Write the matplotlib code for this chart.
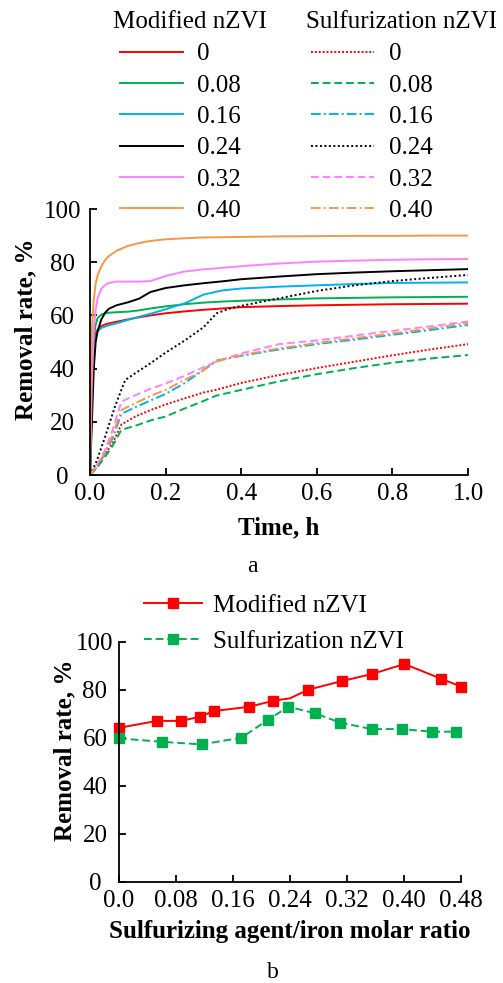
import matplotlib
matplotlib.use("Agg")
import matplotlib.pyplot as plt

plt.rcParams['font.family'] = ['Liberation Serif', 'DejaVu Serif']

# ---------------- data (a) ----------------
ratios = ["0", "0.08", "0.16", "0.24", "0.32", "0.40"]
colors = ["#FF0000", "#00B050", "#00B0F0", "#000000", "#FF80FF", "#F79646"]

t_mod = [0, 0.005, 0.01, 0.015, 0.02, 0.03, 0.04, 0.05, 0.07, 0.1, 0.13, 0.16,
         0.2, 0.25, 0.3, 0.35, 0.4, 0.5, 0.6, 0.7, 0.8, 0.9, 1.0]
mod_0    = [0, 30, 48, 53, 54.6, 56, 56.6, 57, 57.6, 58.5, 59.3, 60, 60.8, 61.5, 62.1, 62.6, 63.1, 63.5, 63.8, 64, 64.2, 64.3, 64.4]
mod_008  = [0, 30, 52, 56.5, 59, 60.3, 60.8, 61, 61.2, 61.4, 61.9, 62.6, 63.4, 64.2, 64.8, 65.2, 65.5, 66, 66.4, 66.6, 66.8, 66.9, 67.0]
mod_016  = [0, 28, 46, 51.5, 54, 55.3, 55.8, 56.3, 57, 58.3, 59.5, 60.6, 62.3, 64.5, 67.8, 69.4, 70.1, 70.8, 71.3, 71.8, 72.2, 72.3, 72.4]
mod_024  = [0, 20, 40, 50, 54, 58.5, 61, 62.5, 63.8, 64.9, 66.3, 68.8, 70.3, 71.3, 72.1, 72.8, 73.6, 74.6, 75.5, 76.1, 76.6, 77, 77.4]
mod_032  = [0, 35, 55, 62, 66.5, 70, 71.4, 72.2, 72.7, 72.7, 72.7, 72.9, 74.8, 76.5, 77.3, 77.9, 78.5, 79.5, 80.2, 80.6, 80.9, 81.1, 81.2]
mod_040  = [0, 55, 66, 72, 75, 78.5, 80.8, 82.3, 84.3, 86.1, 87.2, 88, 88.6, 89, 89.3, 89.4, 89.5, 89.7, 89.8, 89.9, 89.9, 90, 90]

t_sul = [0, 0.017, 0.04, 0.06, 0.083, 0.12, 0.16, 0.2, 0.25, 0.3, 0.333, 0.4,
         0.5, 0.6, 0.7, 0.8, 0.9, 1.0]
sul_0    = [0, 3, 8, 12, 19, 22, 24.4, 26.5, 28.8, 31, 32, 34.6, 37.6, 40.2, 42.6, 45, 47.2, 49.2]
sul_008  = [0, 2.5, 6.8, 11, 17, 18.5, 20.5, 22, 25, 27.8, 29.8, 32, 35.2, 37.9, 40.2, 42.2, 43.8, 45.1]
sul_016  = [0, 3, 8, 14, 23, 25.5, 28, 30.5, 34.5, 39.5, 43, 44.8, 47.2, 49.2, 50.9, 52.7, 54.5, 56.4]
sul_032  = [0, 3.5, 9.4, 17, 27.6, 30, 32.4, 34.4, 37.3, 40.5, 42.6, 45.7, 49.2, 50.6, 52.4, 54.2, 55.9, 57.7]
sul_040  = [0, 3.2, 8.5, 15, 24.4, 27, 29.7, 32, 35.7, 39.3, 42.6, 45, 47.6, 49.6, 51.4, 53.2, 55.1, 57.2]

t_sul024 = [0, 0.017, 0.04, 0.066, 0.093, 0.12, 0.16, 0.2, 0.25, 0.3, 0.335, 0.37,
            0.4, 0.5, 0.6, 0.7, 0.8, 0.9, 1.0]
sul_024  = [0, 5, 14.4, 25.7, 35.7, 38.3, 42, 46, 50.5, 55.5, 60.8, 62.6, 63.6, 66.4, 69.2, 71.3, 72.9, 74.1, 75.2]

x_ticks_a = [0.0, 0.2, 0.4, 0.6, 0.8, 1.0]
y_ticks = [0, 20, 40, 60, 80, 100]

# ---------------- data (b) ----------------
x_b_mod = [0.0, 0.053, 0.087, 0.114, 0.133, 0.183, 0.217, 0.24, 0.266, 0.313, 0.355, 0.401, 0.453, 0.481]
y_b_mod = [64.1, 67.0, 67.0, 68.75, 71.1, 72.9, 75.4, 76.4, 80.0, 83.6, 86.5, 90.7, 84.5, 81.25]
mod_marked = [0, 1, 2, 3, 4, 5, 6, 8, 9, 10, 11, 12, 13]
x_b_sul = [0.0, 0.06, 0.116, 0.172, 0.209, 0.238, 0.275, 0.311, 0.355, 0.397, 0.439, 0.473]
y_b_sul = [59.7, 58.3, 57.2, 60.0, 67.4, 72.9, 70.2, 66.25, 63.6, 63.6, 62.5, 62.5]
x_ticks_b = [0.0, 0.08, 0.16, 0.24, 0.32, 0.40, 0.48]
x_ticklabels_b = ["0.0", "0.08", "0.16", "0.24", "0.32", "0.40", "0.48"]

W, H = 503, 983
fig = plt.figure(figsize=(W / 100, H / 100), dpi=100)

def px_axes(l, r, t, b):
    return fig.add_axes([l / W, 1 - b / H, (r - l) / W, (b - t) / H])

FS = 18
LW = 1.4

def style(ax, ypad):
    for s in ("top", "right"):
        ax.spines[s].set_visible(False)
    for s in ("left", "bottom"):
        ax.spines[s].set_linewidth(1.3)
    ax.tick_params(direction="in", length=5, width=1.3, labelsize=FS, pad=6)
    ax.tick_params(axis="y", pad=ypad)
    for lab in ax.get_yticklabels():
        lab.set_horizontalalignment("center")

# ---------------- axes a ----------------
axa = px_axes(90, 468, 209, 475)
mod_series = [mod_0, mod_008, mod_016, mod_024, mod_032, mod_040]
sul_series = [sul_0, sul_008, sul_016, sul_024, sul_032, sul_040]
sul_times = [t_sul, t_sul, t_sul, t_sul024, t_sul, t_sul]
sul_dash = [(1, 1), (4, 2), (5, 1.6, 1, 1.6), (1, 1.3), (4, 2), (5, 1.6, 1, 1.6)]

mod_lines = []
for lab, c, y in zip(ratios, colors, mod_series):
    ln, = axa.plot(t_mod, y, color=c, lw=LW, label=lab)
    mod_lines.append(ln)
sul_lines = []
for lab, c, t, y, d in zip(ratios, colors, sul_times, sul_series, sul_dash):
    ln, = axa.plot(t, y, color=c, lw=LW, label=lab, dashes=d)
    sul_lines.append(ln)

axa.set_xlim(0, 1.0)
axa.set_ylim(0, 100)
axa.set_xticks(x_ticks_a)
axa.set_xticklabels([f"{v:.1f}" for v in x_ticks_a])
axa.set_yticks(y_ticks)
axa.set_yticklabels([str(v) for v in y_ticks])
style(axa, 20)
axa.set_xlabel("Time, h", fontsize=18, fontweight="bold")
axa.set_ylabel("Removal rate, %", fontsize=18, fontweight="bold")
axa.xaxis.set_label_coords(0.5, -0.157)
axa.yaxis.set_label_coords(-0.140, 0.549)

leg_kw = dict(frameon=False, fontsize=18, handlelength=2.5, handletextpad=0.6,
              labelspacing=0.35, borderpad=0, borderaxespad=0, loc="upper left")
fig.legend(handles=mod_lines, bbox_to_anchor=(120 / W, 1 - 43 / H), **leg_kw)
fig.legend(handles=sul_lines, bbox_to_anchor=(311 / W, 1 - 43 / H), **leg_kw)
fig.text(190 / W, 1 - 22 / H, "Modified nZVI", fontsize=18, ha="center", va="center")
fig.text(401 / W, 1 - 22 / H, "Sulfurization nZVI", fontsize=18, ha="center", va="center")

fig.text(252 / W, 1 - 566 / H, "a", fontsize=17, ha="center", va="center")

# ---------------- axes b ----------------
axb = px_axes(119, 460.7, 641.7, 881.7)
lb1, = axb.plot(x_b_mod, y_b_mod, color="#FF0000", lw=LW, marker="s", markersize=7.5,
                markevery=mod_marked, label="Modified nZVI", clip_on=False)
lb2, = axb.plot(x_b_sul, y_b_sul, color="#00B050", lw=LW, marker="s", markersize=7.5,
                dashes=(4, 2), label="Sulfurization nZVI", clip_on=False)
axb.set_xlim(0, 0.48)
axb.set_ylim(0, 100)
axb.set_xticks(x_ticks_b)
axb.set_xticklabels(x_ticklabels_b)
axb.set_yticks(y_ticks)
axb.set_yticklabels([str(v) for v in y_ticks])
style(axb, 17.3)
axb.set_xlabel("Sulfurizing agent/iron molar ratio", fontsize=18, fontweight="bold")
axb.set_ylabel("Removal rate, %", fontsize=18, fontweight="bold")
axb.xaxis.set_label_coords(0.5, -0.158)
axb.yaxis.set_label_coords(-0.126, 0.549)

fig.legend(handles=[lb1, lb2], frameon=False, fontsize=18, handlelength=2.3,
           handletextpad=0.45, labelspacing=0.55, borderpad=0, borderaxespad=0,
           loc="upper left", bbox_to_anchor=(144 / W, 1 - 594 / H))

fig.text(273 / W, 1 - 972 / H, "b", fontsize=17, ha="center", va="center")

fig.savefig("out.png", dpi=100)
